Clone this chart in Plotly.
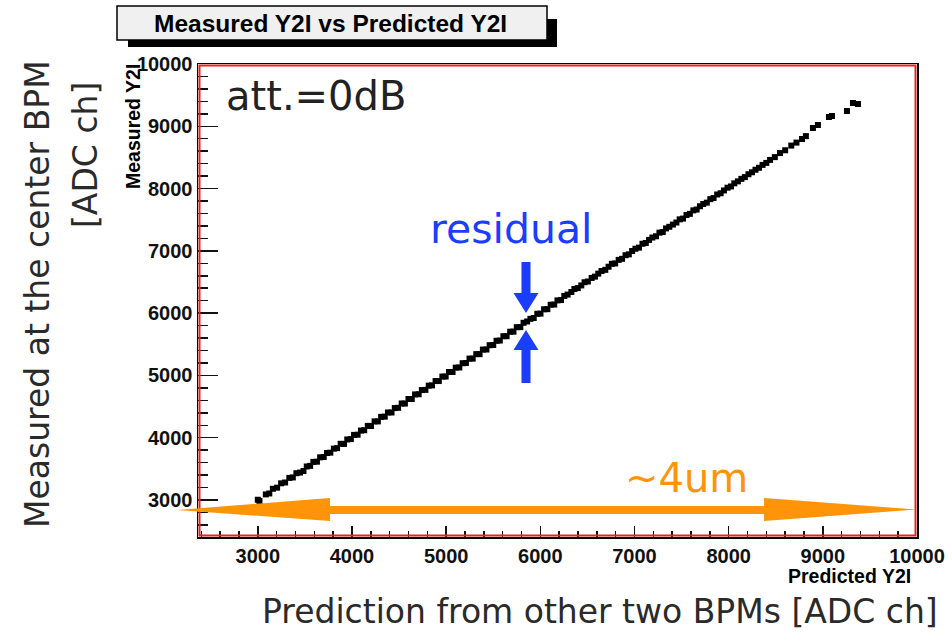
import plotly.graph_objects as go

# ---------------- data ----------------
predicted_y2i = [
    3000, 3018, 3085, 3122, 3160, 3205, 3248, 3290, 3335, 3372,
    3410, 3448, 3485, 3520, 3556, 3590, 3628, 3662, 3700, 3735,
    3770, 3808, 3842, 3880, 3915, 3950, 3988, 4022, 4060, 4095,
    4130, 4168, 4202, 4240, 4275, 4310, 4348, 4382, 4420, 4455,
    4490, 4528, 4562, 4600, 4635, 4670, 4708, 4742, 4780, 4815,
    4850, 4888, 4922, 4960, 4995, 5030, 5068, 5102, 5140, 5175,
    5210, 5248, 5282, 5320, 5355, 5390, 5428, 5462, 5500, 5535,
    5570, 5608, 5642, 5680, 5715, 5750, 5788, 5822, 5860, 5895,
    5930, 5968, 6002, 6040, 6075, 6110, 6148, 6182, 6220, 6255,
    6290, 6330, 6362, 6398, 6435, 6470, 6505, 6545, 6580, 6615,
    6650, 6690, 6725, 6760, 6795, 6832, 6868, 6905, 6940, 6975,
    7010, 7048, 7085, 7120, 7155, 7190, 7228, 7265, 7300, 7335,
    7370, 7408, 7445, 7480, 7515, 7552, 7588, 7625, 7660, 7695,
    7730, 7768, 7805, 7840, 7878, 7915, 7950, 7988, 8025, 8060,
    8098, 8135, 8172, 8210, 8248, 8285, 8322, 8360, 8400, 8440,
    8490, 8545, 8600, 8665, 8720, 8779, 8820, 8895, 8948, 9065,
    9097, 9256, 9320, 9373,
]
measured_y2i = [
    3004, 2985, 3090, 3105, 3180, 3198, 3268, 3281, 3355, 3362,
    3430, 3440, 3465, 3538, 3548, 3612, 3615, 3685, 3690, 3755,
    3760, 3825, 3832, 3902, 3900, 3972, 3978, 4045, 4048, 4115,
    4120, 4190, 4188, 4262, 4262, 4335, 4338, 4405, 4405, 4476,
    4480, 4550, 4548, 4622, 4622, 4695, 4698, 4765, 4768, 4836,
    4840, 4910, 4910, 4982, 4982, 5055, 5056, 5125, 5128, 5196,
    5200, 5270, 5270, 5342, 5342, 5415, 5416, 5485, 5488, 5556,
    5560, 5630, 5630, 5702, 5703, 5775, 5776, 5845, 5866, 5908,
    5922, 5990, 5992, 6062, 6064, 6135, 6138, 6205, 6210, 6276,
    6298, 6340, 6388, 6402, 6445, 6496, 6508, 6565, 6586, 6634,
    6676, 6695, 6745, 6792, 6798, 6855, 6872, 6930, 6944, 6998,
    7034, 7052, 7114, 7126, 7176, 7214, 7234, 7292, 7302, 7360,
    7386, 7422, 7455, 7506, 7518, 7575, 7594, 7650, 7663, 7716,
    7752, 7774, 7830, 7848, 7905, 7925, 7970, 8014, 8034, 8084,
    8116, 8156, 8184, 8230, 8262, 8302, 8334, 8380, 8412, 8460,
    8505, 8570, 8615, 8690, 8738, 8796, 8842, 8973, 9021, 9149,
    9165, 9245, 9374, 9358,
]
x_ticks = [3000, 4000, 5000, 6000, 7000, 8000, 9000, 10000]
x_tick_labels = ["3000", "4000", "5000", "6000", "7000", "8000", "9000", "10000"]
y_ticks = [3000, 4000, 5000, 6000, 7000, 8000, 9000, 10000]
y_tick_labels = ["3000", "4000", "5000", "6000", "7000", "8000", "9000", "10000"]

# ---------------- layout geometry (pixels) ----------------
W, H = 952, 635
L, R, T, B = 198, 917, 64, 537


def px(x):
    return (x - L) / (R - L)


def py(y):
    return (B - y) / (B - T)


def path(points):
    return "M " + " L ".join(f"{px(a):.5f},{py(b):.5f}" for a, b in points) + " Z"


fig = go.Figure()
fig.add_trace(go.Scatter(
    x=predicted_y2i, y=measured_y2i, mode="markers",
    marker=dict(symbol="square", size=6, color="black", line=dict(width=0)),
    hoverinfo="skip", showlegend=False,
))

tickfont = dict(family="Liberation Sans, Arial, sans-serif", size=20, color="#111", weight="bold")
axis_common = dict(
    showgrid=False, zeroline=False, showline=True, linecolor="black", linewidth=1.5,
    mirror=True, ticks="inside", tickcolor="#111", tickwidth=1.5, tickfont=tickfont,
    minor=dict(ticks="inside", dtick=200, tick0=0, tickcolor="#111", tickwidth=1.5, showgrid=False),
)
fig.update_xaxes(**axis_common, range=[2365, 10000], tickmode="array",
                 tickvals=x_ticks, ticktext=x_tick_labels, ticklen=11)
fig.update_xaxes(minor_ticklen=6)
fig.update_yaxes(**axis_common, range=[2406, 10000], tickmode="array",
                 tickvals=y_ticks, ticktext=y_tick_labels, ticklen=20)
fig.update_yaxes(minor_ticklen=10)

shapes = []
# red inner frame
shapes.append(dict(type="rect", xref="paper", yref="paper",
                   x0=px(L + 1.5), x1=px(R - 1.5), y0=py(B - 1.5), y1=py(T + 1.5),
                   line=dict(color="#e8231f", width=2), layer="above"))
# title box shadow + box
shapes.append(dict(type="rect", xref="paper", yref="paper",
                   x0=px(128), x1=px(557), y0=py(47), y1=py(19),
                   fillcolor="black", line=dict(width=0)))
shapes.append(dict(type="rect", xref="paper", yref="paper",
                   x0=px(117), x1=px(547), y0=py(40), y1=py(6),
                   fillcolor="#f0f0f0", line=dict(color="black", width=1.5)))
# orange double arrow
orange = "#ff9408"
shapes.append(dict(type="path", xref="paper", yref="paper", layer="above",
                   path=path([(177, 510), (330, 498), (330, 506), (764, 506), (764, 498),
                              (916, 509.5), (764, 521), (764, 514), (330, 514), (330, 521)]),
                   fillcolor=orange, line=dict(width=0)))
# blue arrows
blue = "#1a3dff"
shapes.append(dict(type="path", xref="paper", yref="paper", layer="above",
                   path=path([(521.5, 262), (530.5, 262), (530.5, 293), (538.5, 293),
                              (526, 313), (513.5, 293), (521.5, 293)]),
                   fillcolor=blue, line=dict(width=0)))
shapes.append(dict(type="path", xref="paper", yref="paper", layer="above",
                   path=path([(526, 330), (538.5, 350), (530.5, 350), (530.5, 383),
                              (521.5, 383), (521.5, 350), (513.5, 350)]),
                   fillcolor=blue, line=dict(width=0)))

ann = []
bold = dict(family="Liberation Sans, Arial, sans-serif", color="black", weight="bold")
ann.append(dict(text="Measured Y2I vs Predicted Y2I", x=px(330), y=py(24), xref="paper", yref="paper",
                showarrow=False, xanchor="center", yanchor="middle", font=dict(**bold, size=24.5)))
ann.append(dict(text="Predicted Y2I", x=px(913), y=py(576), xref="paper", yref="paper",
                showarrow=False, xanchor="right", yanchor="middle", font=dict(**bold, size=19.5)))
ann.append(dict(text="Measured Y2I", x=px(133), y=py(127), xref="paper", yref="paper", textangle=-90,
                showarrow=False, xanchor="center", yanchor="middle", font=dict(**bold, size=19.5)))

light = dict(family="DejaVu Sans, sans-serif")
ann.append(dict(text="att.=0dB", x=px(316), y=py(96), xref="paper", yref="paper",
                showarrow=False, xanchor="center", yanchor="middle", font=dict(**light, size=40, color="#222")))
ann.append(dict(text="residual", x=px(511), y=py(229), xref="paper", yref="paper",
                showarrow=False, xanchor="center", yanchor="middle", font=dict(**light, size=41, color=blue)))
ann.append(dict(text="~4um", x=px(686), y=py(478), xref="paper", yref="paper",
                showarrow=False, xanchor="center", yanchor="middle", font=dict(**light, size=40, color=orange)))
ann.append(dict(text="Prediction from other two BPMs [ADC ch]", x=px(600), y=py(611), xref="paper", yref="paper",
                showarrow=False, xanchor="center", yanchor="middle", font=dict(**light, size=33, color="#2a2a2a")))
ann.append(dict(text="Measured at the center BPM", x=px(37), y=py(294), xref="paper", yref="paper", textangle=-90,
                showarrow=False, xanchor="center", yanchor="middle", font=dict(**light, size=33, color="#2a2a2a")))
ann.append(dict(text="[ADC ch]", x=px(85), y=py(155), xref="paper", yref="paper", textangle=-90,
                showarrow=False, xanchor="center", yanchor="middle", font=dict(**light, size=33, color="#2a2a2a")))

fig.update_layout(
    width=W, height=H, autosize=False,
    margin=dict(l=L, r=W - R, t=T, b=H - B, pad=0, autoexpand=False),
    paper_bgcolor="white", plot_bgcolor="white",
    shapes=shapes, annotations=ann, showlegend=False,
)

fig.write_html(
    "out.html",
    config={"responsive": False, "displayModeBar": False, "staticPlot": True},
    post_script="document.documentElement.style.overflow='hidden';"
                "document.body.style.margin='0';document.body.style.overflow='hidden';",
)
